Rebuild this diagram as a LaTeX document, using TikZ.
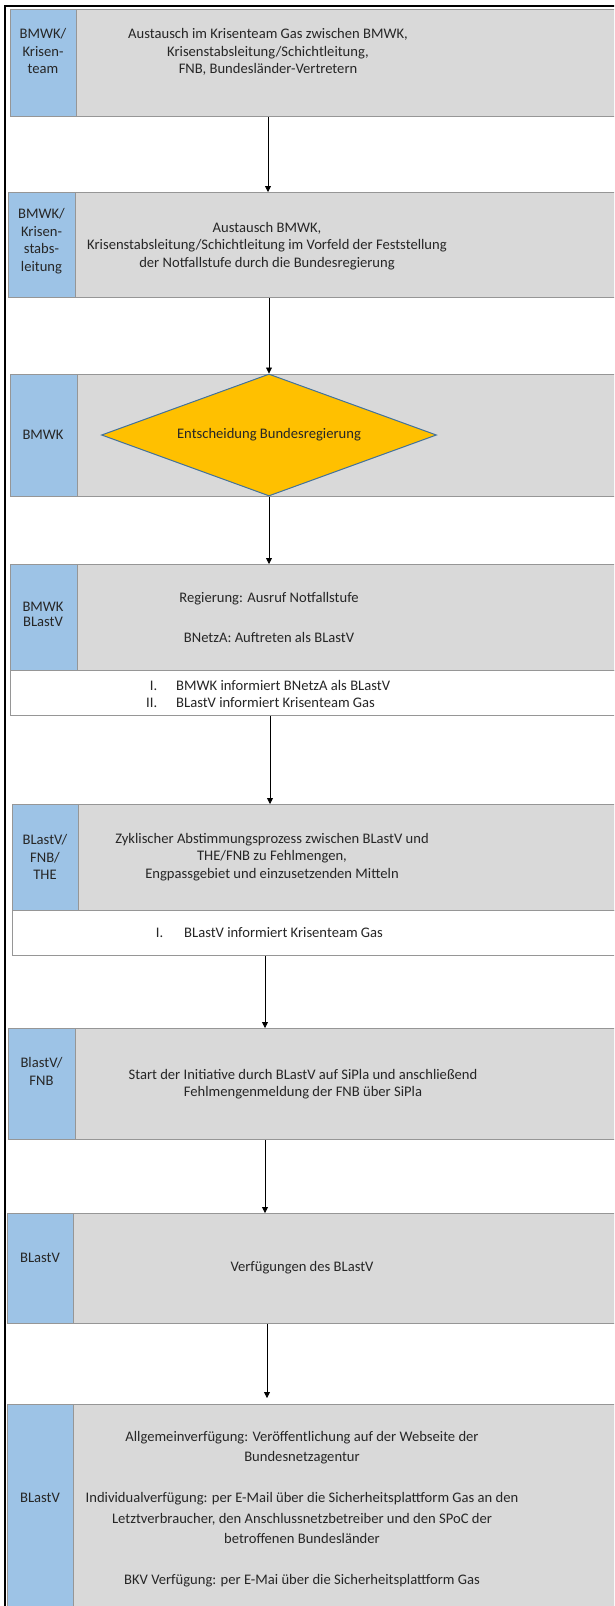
\documentclass[tikz,border=0pt]{standalone}
\usepackage{fontspec}
\setmainfont{Carlito}
\usetikzlibrary{shapes.geometric,arrows.meta,calc}
\definecolor{lblue}{RGB}{157,195,230}
\definecolor{lgray}{RGB}{217,217,217}
\definecolor{bord}{RGB}{150,150,150}
\definecolor{dgold}{RGB}{255,192,0}
\definecolor{dline}{RGB}{65,113,156}
\definecolor{txt}{RGB}{38,38,38}
\begin{document}
\begin{tikzpicture}[x=1pt,y=-1pt,
 bluebox/.style={draw=bord, line width=1pt, fill=lblue, anchor=north west, inner sep=0pt},
 graybox/.style={draw=bord, line width=1pt, fill=lgray, anchor=north west, inner sep=0pt},
 whitebox/.style={draw=bord, line width=1pt, fill=white, anchor=north west, inner sep=0pt},
 txtnode/.style={font=\fontsize{14.6}{17.6}\selectfont, text=txt, align=center, inner sep=0pt},
 widetxt/.style={font=\fontsize{14.6}{20.4}\selectfont, text=txt, align=center, inner sep=0pt},
 listtxt/.style={font=\fontsize{14.6}{17}\selectfont, text=txt, align=left, inner sep=0pt, anchor=west},
 decision/.style={diamond, aspect=2.75, draw=dline, line width=1pt, fill=dgold, inner sep=0pt,
   minimum width=335pt, minimum height=122pt, font=\fontsize{14.6}{17.6}\selectfont, text=txt},
 arr/.style={draw=black, line width=0.8pt, -{Triangle[width=6pt,length=6pt]}},
]
\clip (0,0) rectangle (614,1606);
\fill[white] (0,0) rectangle (614,1606);

% Box 1
\node[graybox, minimum width=550pt, minimum height=107pt] (g1) at (76,9) {};
\node[bluebox, minimum width=66pt, minimum height=107pt] (b1) at (10,9) {};
\node[txtnode] (l1) at (43,51) {BMWK/\\Krisen-\\team};
\node[txtnode] (t1) at (268,52) {Austausch im Krisenteam Gas zwischen BMWK,\\Krisenstabsleitung/Schichtleitung,\\FNB, Bundesländer-Vertretern};

% Box 2
\node[graybox, minimum width=550pt, minimum height=105pt] (g2) at (75,192) {};
\node[bluebox, minimum width=67pt, minimum height=105pt] (b2) at (8,192) {};
\node[txtnode] (l2) at (41.5,241) {BMWK/\\Krisen-\\stabs-\\leitung};
\node[txtnode] (t2) at (267,246) {Austausch BMWK,\\Krisenstabsleitung/Schichtleitung im Vorfeld der Feststellung\\der Notfallstufe durch die Bundesregierung};

% Box 3
\node[graybox, minimum width=550pt, minimum height=122pt] (g3) at (77,374) {};
\node[bluebox, minimum width=67pt, minimum height=122pt] (b3) at (10,374) {};
\node[txtnode] (l3) at (43,435) {BMWK};
\node[decision] (d3) at (269,435) {Entscheidung Bundesregierung};

% Box 4
\node[graybox, minimum width=550pt, minimum height=106pt] (g4) at (77,564) {};
\node[bluebox, minimum width=67pt, minimum height=106pt] (b4) at (10,564) {};
\node[txtnode, font=\fontsize{14.6}{15.5}\selectfont] (l4) at (43,614.5) {BMWK\\BLastV};
\node[widetxt] (t4) at (269,617.5) {Regierung: Ausruf Notfallstufe\\[20.4pt]BNetzA: Auftreten als BLastV};
\node[whitebox, minimum width=620pt, minimum height=45pt] (w4) at (10,670) {};
\node[listtxt] (n4) at (147,693.5) {\makebox[10pt][r]{I.}\hspace{19pt}BMWK informiert BNetzA als BLastV\\\makebox[10pt][r]{II.}\hspace{19pt}BLastV informiert Krisenteam Gas};

% Box 5
\node[graybox, minimum width=550pt, minimum height=106pt] (g5) at (78,804) {};
\node[bluebox, minimum width=66pt, minimum height=106pt] (b5) at (12,804) {};
\node[txtnode] (l5) at (45,857) {BLastV/\\FNB/\\THE};
\node[txtnode] (t5) at (272,857) {Zyklischer Abstimmungsprozess zwischen BLastV und\\THE/FNB zu Fehlmengen,\\Engpassgebiet und einzusetzenden Mitteln};
\node[whitebox, minimum width=620pt, minimum height=45pt] (w5) at (12,910) {};
\node[listtxt] (n5) at (153,933) {\makebox[10pt][r]{I.}\hspace{21pt}BLastV informiert Krisenteam Gas};

% Box 6
\node[graybox, minimum width=550pt, minimum height=111pt] (g6) at (75,1028) {};
\node[bluebox, minimum width=67pt, minimum height=111pt] (b6) at (8,1028) {};
\node[txtnode] (l6) at (41.5,1071.5) {BlastV/\\FNB};
\node[txtnode] (t6) at (303,1084) {Start der Initiative durch BLastV auf SiPla und anschließend\\Fehlmengenmeldung der FNB über SiPla};

% Box 7
\node[graybox, minimum width=550pt, minimum height=110pt] (g7) at (73,1213) {};
\node[bluebox, minimum width=66pt, minimum height=110pt] (b7) at (7,1213) {};
\node[txtnode] (l7) at (40,1258) {BLastV};
\node[txtnode] (t7) at (302,1268) {Verfügungen des BLastV};

% Box 8
\node[graybox, minimum width=550pt, minimum height=230pt] (g8) at (73,1404) {};
\node[bluebox, minimum width=66pt, minimum height=230pt] (b8) at (7,1404) {};
\node[txtnode] (l8) at (40,1498) {BLastV};
\node[widetxt] (t8) at (302,1509) {Allgemeinverfügung: Veröffentlichung auf der Webseite der\\Bundesnetzagentur\\[20.4pt]Individualverfügung: per E-Mail über die Sicherheitsplattform Gas an den\\Letztverbraucher, den Anschlussnetzbetreiber und den SPoC der\\betroffenen Bundesländer\\[20.4pt]BKV Verfügung: per E-Mai über die Sicherheitsplattform Gas};

% Connectors
\draw[arr] ([xshift=192pt]g1.south west) -- ([xshift=193pt]g2.north west);
\draw[arr] (d3.north |- g2.south) -- (d3.north);
\draw[arr] (d3.south) -- (d3.south |- g4.north);
\draw[arr] ([xshift=260pt]w4.south west) -- ([xshift=192pt]g5.north west);
\draw[arr] ([xshift=253pt]w5.south west) -- ([xshift=190pt]g6.north west);
\draw[arr] ([xshift=190pt]g6.south west) -- ([xshift=192pt]g7.north west);
\draw[arr, shorten >=6pt] ([xshift=194pt]g7.south west) -- ([xshift=194pt]g8.north west);

% Outer frame
\draw[line width=2.5pt, line cap=rect] (5,1620) -- (5,6) -- (630,6);
\end{tikzpicture}
\end{document}
